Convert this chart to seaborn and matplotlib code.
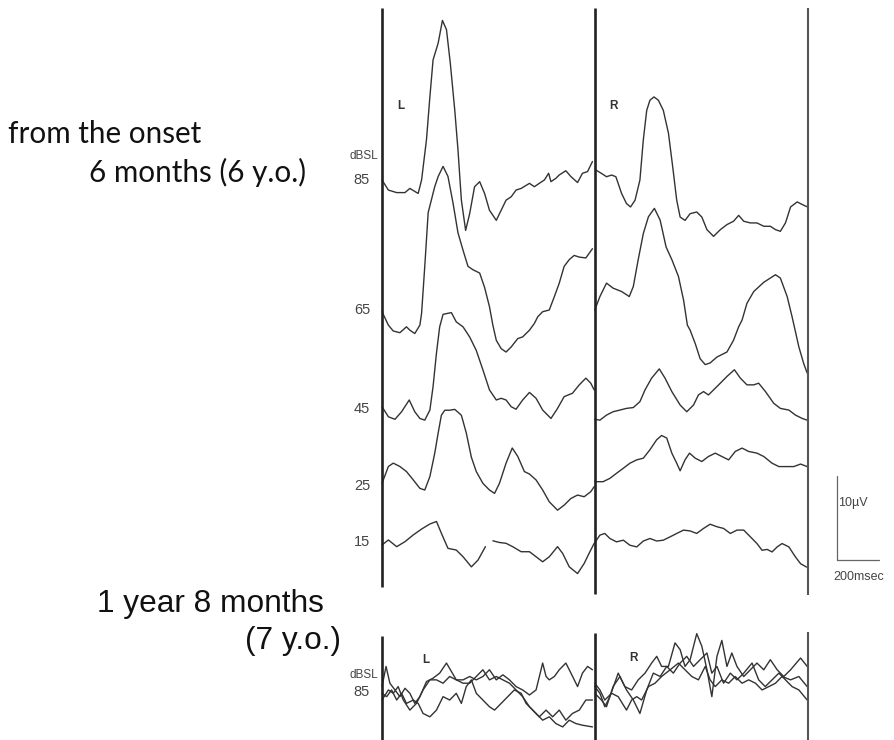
import numpy as np
import pandas as pd
import matplotlib
matplotlib.use("Agg")
import matplotlib.pyplot as plt
import seaborn as sns

# ---------------------------------------------------------------------------
# Averaged evoked responses (time in ms after stimulus, amplitude in µV
# relative to the start of each sweep).  NaN marks a break in the trace.
# ---------------------------------------------------------------------------
NAN = float("nan")

# --- 6 months after onset, left ear ---------------------------------------
L85_T = [0, 30, 69, 108, 131, 150, 170, 186, 209, 225, 240, 264, 284, 303, 321, 342,
         357, 373, 393, 412, 435, 459, 482, 505, 537, 560, 583, 607, 630, 654, 693,
         716, 739, 763, 783, 794, 817, 833, 864, 888, 919, 942, 966, 989]
L85_V = [0, -1.2, -1.5, -1.5, -1.0, -1.3, -1.6, 0, 4.8, 9.9, 14.3, 16.3, 19.0, 17.9,
         13.9, 8.3, 3.6, -2.4, -6.0, -4.0, -0.8, -0.2, -1.6, -3.6, -4.8, -3.6, -2.4,
         -2.0, -1.2, -1.0, -0.4, -0.8, -0.4, 0, 0.8, -0.2, 0.2, 0.6, 1.1, 0.4, -0.3,
         0.8, 1.0, 2.2]

L65_T = [0, 30, 53, 84, 115, 131, 154, 178, 186, 201, 217, 232, 248, 264, 287, 310,
         334, 357, 381, 404, 427, 459, 482, 505, 521, 537, 560, 583, 607, 638, 661,
         693, 716, 732, 755, 786, 810, 833, 856, 880, 903, 927, 958, 989]
L65_V = [0, -1.6, -2.3, -2.5, -1.8, -2.2, -2.6, -1.6, -0.2, 5.4, 11.8, 13.3, 14.9,
         16.1, 17.3, 16.1, 12.9, 9.4, 7.3, 5.4, 5.0, 4.6, 2.9, 0.6, -1.6, -3.4, -4.4,
         -4.8, -4.2, -3.2, -3.0, -2.2, -1.4, -0.6, 0, 0.2, 1.8, 3.4, 5.4, 6.2, 6.7,
         6.5, 6.4, 7.5]

L45_T = [0, 30, 61, 92, 128, 154, 178, 201, 225, 240, 256, 271, 287, 326, 349, 381,
         412, 443, 474, 505, 537, 560, 583, 607, 630, 661, 693, 724, 755, 794, 825,
         856, 895, 927, 958, 981, 997]
L45_V = [0, -1.2, -1.5, -0.6, 0.8, -0.6, -1.4, -1.6, -0.4, 2.4, 6.4, 9.5, 11.0, 11.2,
         10.1, 9.5, 8.3, 6.7, 4.4, 2.0, 0.8, 1.0, 0.8, 0, -0.3, 0.8, 1.7, 1.0, -0.4,
         -1.4, -0.2, 1.2, 1.6, 2.6, 3.4, 2.8, 2.0]

L25_T = [0, 30, 53, 84, 115, 147, 178, 201, 225, 248, 264, 279, 295, 318, 342, 373,
         396, 420, 443, 474, 505, 529, 552, 583, 612, 638, 669, 693, 724, 755, 786,
         825, 856, 888, 919, 950, 981, 997]
L25_V = [0, 2.0, 2.4, 2.0, 1.4, 0.4, -0.6, -0.8, 0.8, 3.6, 6.0, 8.1, 8.7, 8.7, 8.8,
         8.1, 6.0, 3.1, 1.4, 0, -0.8, -1.2, 0, 2.4, 4.2, 3.2, 1.4, 1.1, 0.4, -0.8,
         -2.2, -3.2, -2.6, -1.8, -1.4, -1.6, -1.0, -0.4]

L15_T = [0, 30, 69, 108, 147, 186, 225, 256, 279, 310, 349, 381, 420, 451, 486, 500,
         521, 552, 583, 614, 654, 693, 724, 755, 786, 825, 849, 880, 919, 950, 973, 997]
L15_V = [0, 0.6, -0.2, 0.4, 1.2, 1.9, 2.5, 2.8, 1.4, -0.4, -0.6, -1.4, -2.6, -1.8,
         -0.2, NAN, 0.5, 0.3, 0.2, -0.2, -0.8, -0.8, -1.4, -2.0, -1.4, -0.2, -1.0,
         -2.6, -3.4, -2.2, -1.0, 0.2]

# --- 6 months after onset, right ear --------------------------------------
R85_T = [5, 31, 55, 79, 99, 126, 149, 168, 189, 212, 228, 244, 259, 278, 299, 322,
         346, 366, 385, 401, 424, 448, 479, 503, 527, 558, 590, 621, 652, 676, 700,
         731, 762, 794, 825, 849, 872, 896, 920, 951, 982, 1000]
R85_V = [0, -0.4, -0.8, -0.6, -0.8, -2.8, -4.0, -4.4, -3.6, -1.2, 3.6, 7.1, 8.3, 8.7,
         8.3, 7.1, 4.4, 0.4, -3.6, -5.6, -6.0, -5.2, -5.0, -5.6, -7.1, -7.9, -7.1,
         -6.5, -6.1, -5.4, -6.1, -6.3, -6.3, -6.7, -6.7, -7.1, -7.3, -6.3, -4.4,
         -3.8, -4.2, -4.4]

R65_T = [0, 24, 55, 86, 126, 162, 181, 204, 228, 252, 280, 307, 335, 362, 393, 417,
         435, 448, 472, 495, 519, 542, 574, 621, 652, 676, 692, 715, 747, 794, 849,
         872, 904, 927, 959, 982, 998]
R65_V = [0, 1.6, 3.2, 2.6, 2.2, 1.6, 2.8, 6.0, 9.1, 11.1, 12.1, 10.7, 7.5, 6.0, 4.0,
         1.2, -1.8, -2.4, -4.0, -5.8, -6.5, -6.3, -5.6, -5.0, -3.6, -2.0, -1.2, 0.8,
         2.2, 3.3, 4.2, 3.8, 1.6, -0.8, -4.4, -6.4, -7.5]

R45_T = [0, 24, 55, 86, 118, 149, 181, 212, 236, 267, 303, 330, 362, 401, 432, 464,
         487, 511, 534, 558, 582, 621, 656, 684, 715, 747, 770, 802, 841, 872, 912,
         943, 975, 998]
R45_V = [0, -0.1, 0.5, 0.9, 1.1, 1.3, 1.4, 2.1, 3.5, 4.9, 6.0, 4.9, 3.3, 1.7, 0.9,
         1.7, 2.9, 3.3, 2.9, 3.5, 4.1, 5.1, 5.9, 4.9, 4.1, 4.1, 4.3, 3.3, 1.9, 1.3,
         1.1, 0.5, 0.1, -0.1]

R25_T = [0, 39, 71, 102, 134, 165, 197, 228, 259, 291, 314, 338, 362, 385, 401, 424,
         445, 472, 503, 534, 566, 597, 629, 660, 692, 723, 762, 794, 833, 865, 904,
         935, 967, 998]
R25_V = [0, 0, 0.4, 1.0, 1.6, 2.2, 2.6, 2.8, 3.8, 5.0, 5.5, 5.2, 3.4, 2.2, 1.3, 2.6,
         3.4, 2.8, 2.4, 3.0, 3.4, 3.0, 2.6, 3.6, 4.0, 3.6, 3.4, 3.0, 2.2, 1.8, 1.8,
         1.8, 2.1, 1.8]

R15_T = [0, 24, 47, 71, 102, 134, 165, 197, 228, 259, 291, 322, 354, 385, 417, 448,
         479, 511, 542, 574, 605, 637, 668, 700, 731, 762, 786, 810, 833, 857, 880,
         912, 943, 967, 995]
R15_V = [0, 0.9, 1.1, 0.5, 0.1, 0.3, -0.3, -0.5, 0.2, 0.5, 0.2, 0.3, 0.7, 1.1, 1.5,
         1.4, 1.1, 1.7, 2.2, 1.9, 1.7, 1.1, 1.5, 1.5, 0.7, -0.1, -0.9, -0.8, -1.1,
         -0.5, -0.1, -0.5, -1.7, -2.5, -2.9]

# --- 1 year 8 months after onset, 85 dBSL, three superimposed sweeps -------
LA_T = [0, 19, 37, 61, 84, 108, 131, 154, 178, 209, 240, 271, 303, 326, 349, 381,
        412, 443, 474, 505, 537, 568, 599, 630, 661, 693, 724, 755, 771, 786, 810,
        833, 864, 888, 919, 942, 966, 989]
LA_V = [0.8, 3.2, 1.2, 0.4, -0.4, 0.6, 0, -1.2, -0.4, 1.4, 1.8, 2.4, 3.6, 2.6, 1.6,
        1.6, 2.0, 1.6, 2.0, 2.8, 1.6, 2.2, 1.6, 0.8, 0.4, -0.2, 0.4, 3.6, 2.0, 1.6,
        2.0, 2.8, 3.6, 2.4, 0.8, 2.4, 3.2, 2.8]
LB_T = [0, 22, 45, 69, 92, 115, 147, 170, 193, 225, 256, 287, 318, 349, 373, 396,
        420, 443, 474, 505, 529, 560, 591, 622, 654, 677, 708, 739, 771, 802, 833,
        864, 895, 927, 958, 989]
LB_V = [0, -0.4, 0.4, -0.8, 0, -1.2, -0.8, -1.2, -2.4, -2.8, -2.0, -0.4, -0.8, 0,
        -1.2, 0.8, 1.6, 0, -0.8, -1.6, -2.0, -1.2, -0.4, 0.4, 0, -1.2, -2.0, -2.8,
        -2.0, -2.8, -2.0, -3.2, -2.4, -2.0, -0.8, -0.8]
LC_T = [0, 30, 53, 76, 100, 131, 162, 193, 225, 256, 287, 318, 349, 381, 412, 443,
        474, 505, 537, 568, 599, 630, 661, 693, 724, 755, 786, 817, 849, 880, 911,
        942, 989]
LC_V = [-0.8, 0.4, 0, 0.8, -0.8, -2.0, -1.2, 0.4, 1.6, 1.6, 1.2, 2.0, 1.6, 1.2, 1.2,
        2.0, 2.8, 1.6, 2.0, 1.6, 1.2, 0.4, -0.4, -1.6, -2.4, -3.2, -2.8, -3.6, -4.0,
        -3.2, -3.6, -3.8, -4.0]

RA_T = [0, 24, 47, 71, 110, 141, 173, 204, 236, 267, 291, 314, 346, 377, 401, 424,
        448, 479, 503, 527, 550, 574, 597, 621, 644, 668, 700, 731, 762, 794, 825,
        857, 888, 920, 967, 998]
RA_V = [0.8, 0, -1.6, -0.4, 2.4, 0.8, 0.4, 1.6, 2.4, 3.6, 4.4, 3.2, 3.2, 6.0, 5.2,
        3.2, 4.0, 7.1, 5.6, 2.8, -0.4, 4.4, 6.3, 3.2, 4.8, 3.2, 2.0, 2.8, 3.6, 2.8,
        4.0, 2.8, 2.0, 2.8, 4.2, 3.2]
RB_T = [0, 31, 55, 86, 118, 149, 181, 212, 244, 275, 307, 338, 369, 401, 432, 464,
        495, 527, 550, 574, 605, 637, 668, 700, 739, 770, 801, 833, 865, 896, 927,
        959, 998]
RB_V = [0, -0.8, -1.6, 0.8, 2.0, 0.4, -0.8, -2.4, 0.4, 2.4, 2.0, 3.2, 2.4, 3.6, 4.4,
        3.2, 4.0, 4.8, 2.4, 3.2, 1.2, 2.4, 1.6, 2.4, 3.6, 1.6, 0.8, 1.6, 2.4, 1.6,
        0.8, 0.4, -0.8]
RC_T = [0, 24, 47, 79, 110, 149, 173, 197, 220, 252, 283, 314, 354, 393, 424, 456,
        487, 519, 542, 566, 597, 629, 660, 692, 723, 755, 786, 818, 849, 880, 920,
        959, 998]
RC_V = [1.2, 0.4, -0.8, 0, -0.4, -2.0, -0.8, -0.4, -0.8, 0.8, 1.2, 2.0, 2.8, 3.6,
        2.8, 2.0, 1.6, 3.2, 1.6, 0.8, 1.6, 1.2, 2.0, 1.2, 1.6, 1.2, 0.4, 0.8, 1.2,
        2.0, 1.6, 2.0, 0.8]

LEVELS = ["85", "65", "45", "25", "15"]
SCALE_UV = 10      # vertical calibration bar
SCALE_MS = 200     # horizontal calibration bar

# ---------------------------------------------------------------------------
# Page geometry (pixels at 100 dpi) and recording scales
# ---------------------------------------------------------------------------
W, H, DPI = 894, 740, 100
X0_PX = 382.0          # left edge of the L sweep window
PX_PER_MS = 0.2128
PX_PER_UV = 8.4
PANEL_MS = 1000

# baseline row (px from top) of every sweep, per side
ROW_L = {"85": 180.0, "65": 311.7, "45": 406.7, "25": 483.3, "15": 545.0}
ROW_R = {"85": 170.0, "65": 310.0, "45": 419.3, "25": 481.7, "15": 542.7}
ROW_LATE = 693.3


def y_px(px):
    """Convert a page row (px from top) to the amplitude axis."""
    return -px / PX_PER_UV


def x_px(px):
    return (px - X0_PX) / PX_PER_MS


sweeps = [
    ("L85", L85_T, L85_V, 0, ROW_L["85"]), ("L65", L65_T, L65_V, 0, ROW_L["65"]),
    ("L45", L45_T, L45_V, 0, ROW_L["45"]), ("L25", L25_T, L25_V, 0, ROW_L["25"]),
    ("L15", L15_T, L15_V, 0, ROW_L["15"]),
    ("R85", R85_T, R85_V, PANEL_MS, ROW_R["85"]), ("R65", R65_T, R65_V, PANEL_MS, ROW_R["65"]),
    ("R45", R45_T, R45_V, PANEL_MS, ROW_R["45"]), ("R25", R25_T, R25_V, PANEL_MS, ROW_R["25"]),
    ("R15", R15_T, R15_V, PANEL_MS, ROW_R["15"]),
    ("LA", LA_T, LA_V, 0, ROW_LATE), ("LB", LB_T, LB_V, 0, ROW_LATE),
    ("LC", LC_T, LC_V, 0, ROW_LATE),
    ("RA", RA_T, RA_V, PANEL_MS, ROW_LATE), ("RB", RB_T, RB_V, PANEL_MS, ROW_LATE),
    ("RC", RC_T, RC_V, PANEL_MS, ROW_LATE),
]

records = []
for name, t_list, v_list, shift, row in sweeps:
    seg = 0
    for t, v in zip(t_list, v_list):
        if np.isnan(v):
            seg += 1
            continue
        records.append({"sweep": f"{name}-{seg}", "ms": t + shift,
                        "uv": v + y_px(row)})
df = pd.DataFrame(records)

sns.set_theme(style="white")
plt.rcParams["font.family"] = ["Liberation Sans", "DejaVu Sans"]

fig = plt.figure(figsize=(W / DPI, H / DPI), dpi=DPI)
ax = fig.add_axes([0, 0, 1, 1])

TRACE = "#333333"
sns.lineplot(data=df, x="ms", y="uv", units="sweep", estimator=None, sort=False,
             color=TRACE, lw=1.0, ax=ax, legend=False)
for line in ax.get_lines():
    line.set_solid_joinstyle("round")

ax.set_xlim(x_px(0), x_px(W))
ax.set_ylim(y_px(H), y_px(0))
ax.axis("off")

# sweep window borders
FRAME = "#222222"
for t, top, bot, lw, col in [(0, 8, 587, 1.9, FRAME), (PANEL_MS, 8, 594, 1.9, FRAME),
                             (2 * PANEL_MS, 8, 595, 1.5, "#555555")]:
    ax.plot([t, t], [y_px(top), y_px(bot)], color=col, lw=lw, solid_capstyle="butt")
for t, top, lw, col in [(0, 636, 1.9, FRAME), (PANEL_MS, 633, 1.9, FRAME),
                        (2 * PANEL_MS, 632, 1.5, "#555555")]:
    ax.plot([t, t], [y_px(top), y_px(H)], color=col, lw=lw, solid_capstyle="butt")

# calibration bars
bar_x = x_px(836.7)
bar_y = y_px(560)
ax.plot([bar_x, bar_x], [bar_y, bar_y + SCALE_UV], color="#666666", lw=0.9)
ax.plot([bar_x, bar_x + SCALE_MS], [bar_y, bar_y], color="#666666", lw=0.9)


def ftext(px, py, s, **kw):
    fig.text(px / W, 1 - py / H, s, **kw)


BIG = dict(family=["Lato", "DejaVu Sans"], fontsize=21.3, color="#111111",
           va="baseline", ha="left")
ftext(8, 143, "from the onset", **BIG)
ftext(89, 182, "6 months (6 y.o.)", **BIG)

BIG2 = dict(family=["Liberation Sans", "DejaVu Sans"], fontsize=22.8,
            color="#111111", va="baseline", ha="left")
ftext(97, 612, "1 year 8 months", **BIG2)
ftext(245, 649, "(7 y.o.)", **BIG2)

SMALL = dict(family=["Liberation Sans", "DejaVu Sans"], color="#444444",
             va="center")
ftext(378, 156, "dBSL", ha="right", fontsize=8.5, **SMALL)
label_rows = {"85": 180, "65": 310, "45": 409, "25": 486, "15": 542}
for lev in LEVELS:
    ftext(362, label_rows[lev], lev, ha="center", fontsize=10.5, **SMALL)
ftext(378, 675, "dBSL", ha="right", fontsize=8.5, **SMALL)
ftext(362, 692, LEVELS[0], ha="center", fontsize=10.5, **SMALL)

SIDE = dict(family=["Liberation Sans", "DejaVu Sans"], color="#333333",
            va="center", ha="center", fontsize=8.5, fontweight="bold")
ftext(401, 106, "L", **SIDE)
ftext(613, 106, "R", **SIDE)
ftext(426, 660, "L", **SIDE)
ftext(634, 658, "R", **SIDE)

ftext(838, 503, f"{SCALE_UV}µV", ha="left", fontsize=9, **SMALL)
ftext(859, 577, f"{SCALE_MS}msec", ha="center", fontsize=9, **SMALL)

fig.savefig("out.png", dpi=DPI, facecolor="white")
